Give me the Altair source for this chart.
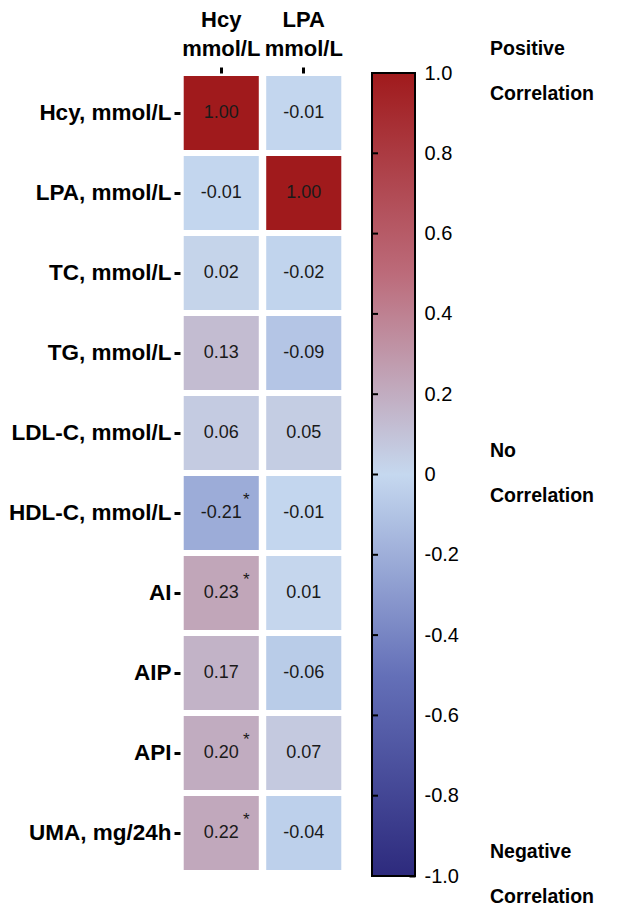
import altair as alt
import pandas as pd

# ---- data ----
rows = ["Hcy, mmol/L", "LPA, mmol/L", "TC, mmol/L", "TG, mmol/L", "LDL-C, mmol/L",
        "HDL-C, mmol/L", "AI", "AIP", "API", "UMA, mg/24h"]
cols = ["Hcy mmol/L", "LPA mmol/L"]
hcy_r = [1.00, -0.01, 0.02, 0.13, 0.06, -0.21, 0.23, 0.17, 0.20, 0.22]
lpa_r = [-0.01, 1.00, -0.02, -0.09, 0.05, -0.01, 0.01, -0.06, 0.07, -0.04]
hcy_sig = [False, False, False, False, False, True, True, False, True, True]
lpa_sig = [False] * 10

scale_domain = [-1, -0.5, 0, 0.5, 1]
scale_colors = ["#2d2a7d", "#6470b8", "#c5d8ef", "#bc6b7a", "#a01a1c"]
cbar_ticks = [1.0, 0.8, 0.6, 0.4, 0.2, 0.0, -0.2, -0.4, -0.6, -0.8, -1.0]
notes = ["Positive\nCorrelation", "No\nCorrelation", "Negative\nCorrelation"]
note_at = [1, 0, -1]

records = []
for c, vals, sig in zip(cols, [hcy_r, lpa_r], [hcy_sig, lpa_sig]):
    for r, v, s in zip(rows, vals, sig):
        records.append({"col": c, "row": r, "r": v, "label": f"{v:.2f}",
                        "star": "*" if s else ""})
df = pd.DataFrame(records)
cb_df = pd.DataFrame({"lo": [min(cbar_ticks)], "hi": [max(cbar_ticks)]})
tick_df = pd.DataFrame({"t": cbar_ticks})
note_df = pd.DataFrame({"note": notes, "at": note_at})

FONT = "Liberation Sans"
W, H = 235, 803
HEAT_W, HEAT_H = 165, 800
CB_X0, CB_X1 = 192, 235

# ---- heatmap ----
x_enc = alt.X("col:N", sort=cols,
              scale=alt.Scale(range=[0, HEAT_W], paddingInner=0.09, paddingOuter=0.045),
              axis=alt.Axis(orient="top", title=None, labelAngle=0,
                            labelExpr="split(datum.label, ' ')",
                            labelFont=FONT, labelFontSize=22, labelFontWeight="bold",
                            labelLineHeight=29, labelPadding=36, labelColor="black",
                            tickSize=6, tickWidth=3, tickColor="black", domain=False))
y_enc = alt.Y("row:N", sort=rows,
              scale=alt.Scale(range=[0, HEAT_H], paddingInner=0.075, paddingOuter=0.0375),
              axis=alt.Axis(title=None, labelFont=FONT, labelFontSize=22.5,
                            labelFontWeight="bold", labelColor="black", labelPadding=3,
                            tickSize=6, tickWidth=3, tickColor="black", domain=False))

base = alt.Chart(df).encode(x=x_enc, y=y_enc)
rects = base.mark_rect().encode(
    color=alt.Color("r:Q", scale=alt.Scale(domain=scale_domain, range=scale_colors,
                                           interpolate="rgb"), legend=None))
texts = base.mark_text(font=FONT, fontSize=18, color="#1a1a1a").encode(text="label:N")
stars = base.mark_text(font=FONT, fontSize=17, dx=25, dy=-13, color="#1a1a1a").encode(text="star:N")
heat = alt.layer(rects, texts, stars)

# ---- colorbar ----
y_cb = alt.Scale(domain=[-1, 1], nice=False, zero=False)
grad = alt.Gradient(
    gradient="linear",
    stops=[alt.GradientStop(offset=(d + 1) / 2, color=c) for d, c in zip(scale_domain, scale_colors)],
    x1=0, y1=1, x2=0, y2=0)
cbar = alt.Chart(cb_df).mark_rect(fill=grad, stroke="black", strokeWidth=2).encode(
    x=alt.value(CB_X0), x2=alt.value(CB_X1),
    y=alt.Y("lo:Q", scale=y_cb,
            axis=alt.Axis(orient="right", title=None, values=cbar_ticks, offset=-6,
                          tickSize=6, tickWidth=2, tickColor="black", domain=False,
                          grid=False, labelFont=FONT, labelFontSize=20, labelColor="black",
                          labelPadding=9,
                          labelExpr="datum.value == 0 ? '0' : replace(format(datum.value, '.1f'), '\u2212', '-')")),
    y2="hi:Q")
left_ticks = alt.Chart(tick_df).mark_rule(color="black", strokeWidth=2).encode(
    y=alt.Y("t:Q", scale=y_cb, axis=None),
    x=alt.value(CB_X0), x2=alt.value(CB_X0 + 6))
note_text = alt.Chart(note_df).mark_text(
    align="left", baseline="middle", font=FONT, fontSize=19.5, fontWeight="bold",
    lineBreak="\n", lineHeight=45, dy=-24, color="black").encode(
    y=alt.Y("at:Q", scale=y_cb, axis=None),
    x=alt.value(310), text="note:N")

chart = alt.layer(heat, cbar, left_ticks, note_text).resolve_scale(
    y="independent").properties(
    width=W, height=H, padding={"left": 0, "top": 0, "right": 0, "bottom": 0}
).configure_view(stroke=None)

chart.save("out.html", embed_options={"renderer": "svg", "actions": False})
